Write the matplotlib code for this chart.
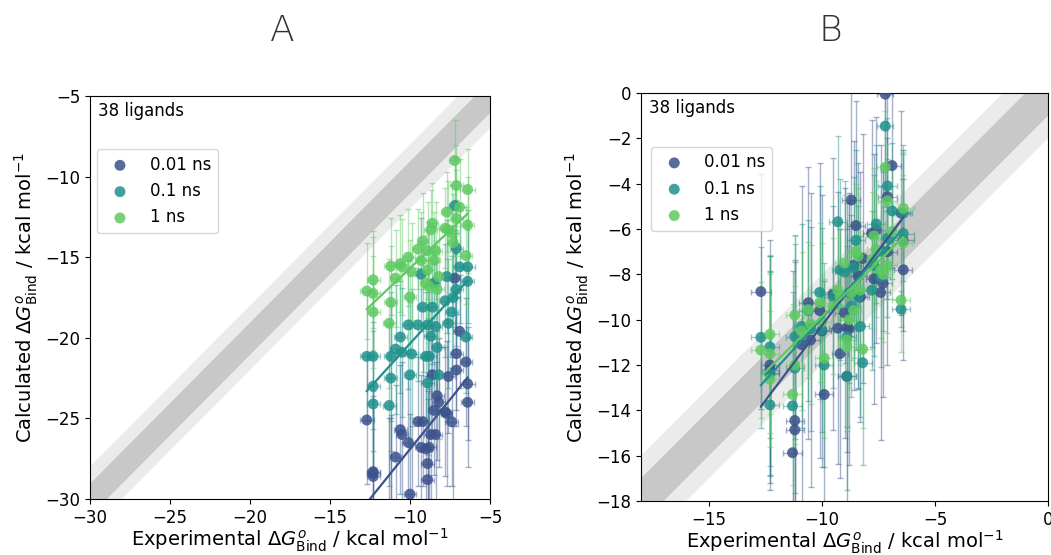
import numpy as np
import matplotlib
matplotlib.use('Agg')
import matplotlib.pyplot as plt

# experimental binding free energies (kcal/mol), shared by both panels
exp_dg = [-12.7, -12.3, -12.3, -12.3, -11.3, -11.2, -11.2, -10.9, -10.6, -10.5,
          -10.1, -10.0, -9.9, -9.5, -9.3, -9.2, -9.0, -8.9, -8.9, -8.8,
          -8.7, -8.6, -8.5, -8.4, -8.3, -8.2, -7.8, -7.7, -7.6, -7.4,
          -7.3, -7.2, -7.1, -7.1, -6.9, -6.5, -6.4, -6.4]
exp_err = [0.45, 0.4, 0.4, 0.4, 0.4, 0.4, 0.4, 0.35, 0.4, 0.4,
           0.4, 0.4, 0.4, 0.4, 0.4, 0.35, 0.4, 0.4, 0.4, 0.4,
           0.4, 0.35, 0.4, 0.4, 0.4, 0.4, 0.4, 0.35, 0.4, 0.4,
           0.4, 0.35, 0.4, 0.4, 0.4, 0.4, 0.45, 0.4]

# panel A - calculated values
a_001 = [-25.1, -28.3, -28.6, -28.4, -31.5, -32.0, -30.8, -27.4, -25.7, -26.0,
         -26.5, -29.7, -31.0, -25.2, -26.8, -25.2, -26.9, -28.8, -27.8, -26.8,
         -26.0, -22.3, -24.5, -26.0, -23.6, -24.0, -24.6, -24.7, -22.4, -25.2,
         -30.5, -16.3, -20.98, -22.0, -19.6, -21.5, -22.85, -24.0]
a_001_err = [4.0, 5.0, 5.0, 4.5, 6.5, 7.0, 6.0, 4.5, 4.0, 4.5,
             4.0, 5.0, 5.5, 4.0, 4.5, 4.0, 4.5, 5.0, 4.5, 4.0,
             4.0, 3.5, 4.0, 4.5, 4.0, 4.0, 4.0, 4.5, 3.5, 4.0,
             5.0, 3.0, 3.5, 3.5, 3.5, 4.0, 3.5, 4.0]
a_01 = [-21.15, -21.15, -23.0, -24.1, -24.2, -22.5, -21.15, -20.7, -19.95, -20.9,
        -19.2, -22.3, -21.0, -19.2, -16.06, -18.1, -21.15, -22.8, -19.2, -21.15,
        -19.9, -18.1, -16.6, -19.3, -20.6, -22.3, -17.7, -16.2, -19.1, -18.4,
        -17.5, -11.8, -14.46, -17.0, -15.6, -19.95, -15.6, -16.5]
a_01_err = [4.0, 4.5, 4.0, 4.5, 5.0, 4.5, 4.0, 4.0, 3.5, 4.0,
            4.0, 4.5, 4.0, 3.5, 3.5, 4.0, 4.0, 4.5, 4.0, 4.0,
            3.5, 3.5, 3.5, 4.0, 4.0, 4.0, 3.5, 3.5, 4.0, 3.5,
            3.5, 3.0, 3.0, 3.5, 3.5, 3.5, 3.5, 3.5]
a_1 = [-17.1, -16.4, -17.25, -18.4, -19.1, -17.8, -15.56, -16.3, -15.4, -15.6,
       -15.0, -17.46, -15.9, -14.5, -15.2, -14.0, -16.6, -14.6, -15.8, -16.8,
       -13.3, -12.9, -15.2, -14.6, -17.0, -16.2, -13.2, -12.2, -13.3, -13.5,
       -14.1, -9.0, -10.55, -12.6, -11.9, -14.9, -10.8, -13.0]
a_1_err = [3.0, 3.0, 3.5, 3.5, 4.0, 3.5, 3.0, 3.0, 3.0, 3.0,
           3.0, 3.5, 3.0, 2.5, 3.0, 3.0, 3.0, 3.0, 3.0, 3.5,
           2.5, 2.5, 3.0, 3.0, 3.0, 3.0, 2.5, 2.5, 3.0, 3.0,
           3.0, 2.5, 2.5, 3.0, 3.0, 3.0, 2.5, 3.0]

# panel B - calculated values
b_001 = [-8.76, -12.0, -12.2, -12.35, -15.87, -14.86, -14.45, -11.1, -9.25, -10.9,
         -9.6, -10.5, -13.3, -8.88, -10.38, -11.5, -9.7, -12.5, -10.35, -10.4,
         -4.72, -7.6, -5.85, -8.07, -9.0, -7.3, -6.19, -8.2, -6.05, -8.8,
         -8.4, -0.05, -4.57, -7.0, -3.2, -5.3, -6.5, -7.8]
b_001_err = [5.2, 5.5, 5.0, 4.5, 8.0, 7.5, 7.0, 7.0, 6.0, 6.5,
             6.5, 6.0, 5.0, 6.0, 6.0, 5.5, 5.5, 6.5, 5.5, 6.0,
             6.0, 5.5, 5.5, 5.0, 5.5, 5.5, 5.0, 5.5, 5.0, 6.5,
             5.0, 5.0, 4.5, 5.0, 4.5, 4.5, 4.0, 4.0]
b_01 = [-10.78, -13.76, -12.4, -11.2, -13.8, -12.14, -10.75, -10.3, -9.6, -10.4,
        -8.8, -10.45, -12.0, -9.0, -5.68, -7.8, -7.9, -12.5, -10.75, -8.8,
        -9.4, -7.7, -6.5, -9.0, -10.3, -11.9, -8.7, -7.6, -5.78, -8.1,
        -7.0, -1.46, -4.1, -6.4, -5.2, -9.54, -6.2, -5.3]
b_01_err = [4.0, 2.7, 4.5, 4.0, 5.0, 5.5, 4.5, 4.5, 4.0, 4.5,
            4.7, 4.5, 4.5, 4.0, 3.8, 4.0, 4.0, 5.0, 4.0, 4.0,
            4.0, 4.0, 4.0, 4.0, 4.0, 4.5, 3.5, 4.0, 3.5, 4.0,
            3.5, 3.0, 3.0, 3.5, 3.0, 0.8, 3.5, 3.0]
b_1 = [-11.34, -10.65, -11.5, -12.63, -13.3, -12.0, -9.8, -10.5, -9.56, -10.2,
       -9.25, -10.1, -11.7, -9.4, -8.7, -9.0, -7.5, -10.9, -11.2, -10.0,
       -8.8, -9.6, -7.0, -7.2, -8.7, -11.3, -7.35, -6.3, -6.9, -7.8,
       -8.0, -3.28, -4.76, -7.6, -6.1, -9.14, -5.09, -6.6]
b_1_err = [3.0, 3.5, 3.5, 3.0, 4.0, 3.5, 3.5, 3.5, 3.0, 3.5,
           3.5, 3.5, 3.5, 3.0, 3.0, 3.0, 3.0, 4.0, 3.5, 3.0,
           3.0, 3.0, 3.0, 3.0, 3.0, 3.5, 3.0, 3.0, 3.0, 3.0,
           3.0, 2.5, 2.5, 3.0, 3.0, 2.3, 2.5, 3.0]

labels = ['0.01 ns', '0.1 ns', '1 ns']
colors = ['#3b528b', '#21918c', '#5ec962']

panels = [
    ('A', [a_001, a_01, a_1], [a_001_err, a_01_err, a_1_err], (-30, -5)),
    ('B', [b_001, b_01, b_1], [b_001_err, b_01_err, b_1_err], (-18, 0)),
]
axes_pos = [[0.0856, 0.1009, 0.3806, 0.7261], [0.6099, 0.0973, 0.3873, 0.7351]]
leg_anchor = [(0.0, 0.885), (0.008, 0.885)]

fig = plt.figure(figsize=(10.51, 5.55), dpi=100)

x = np.array(exp_dg)
for i, (name, calcs, errs, lim) in enumerate(panels):
    ax = fig.add_axes(axes_pos[i])
    # agreement bands (+-2 and +-1 kcal/mol)
    line = np.linspace(lim[0] - 3, lim[1] + 3, 10)
    ax.fill_between(line, line - 2, line + 2, color='#ebebeb', lw=0, zorder=0)
    ax.fill_between(line, line - 1, line + 1, color='#c8c8c8', lw=0, zorder=0)

    for calc, err, lab, col in zip(calcs, errs, labels, colors):
        y = np.array(calc)
        ax.errorbar(x, y, xerr=exp_err, yerr=err, fmt='none', ecolor=col,
                    elinewidth=1, capsize=2, alpha=0.45, zorder=2)
        ax.scatter(x, y, s=62, color=col, alpha=0.85, edgecolors='none',
                   label=lab, zorder=3)
        # linear fit
        m, c = np.polyfit(x, y, 1)
        xf = np.array([x.min(), x.max()])
        ax.plot(xf, m * xf + c, color=col, lw=1.6, zorder=4)

    ax.set_xlim(lim)
    ax.set_ylim(lim)
    if name == 'A':
        ax.set_yticks(np.arange(-30, -4, 5))
    else:
        ax.set_xticks([-15, -10, -5, 0])
        ax.set_yticks(np.arange(-18, 1, 2))
    ax.tick_params(labelsize=12)
    ax.set_xlabel(r'Experimental $\Delta G^{o}_{\mathrm{Bind}}$ / kcal mol$^{-1}$',
                  fontsize=14, labelpad=0)
    ax.set_ylabel(r'Calculated $\Delta G^{o}_{\mathrm{Bind}}$ / kcal mol$^{-1}$',
                  fontsize=14, labelpad=4)
    ax.text(0.02, 0.985, '38 ligands', transform=ax.transAxes, fontsize=12,
            va='top', ha='left')
    ax.legend(loc='upper left', bbox_to_anchor=leg_anchor[i], fontsize=12,
              borderaxespad=0.4)

title_font = ['DejaVu Sans Condensed', 'Liberation Sans Narrow', 'DejaVu Sans']
fig.text(0.269, 0.945, 'A', fontsize=26, color='#333333', ha='center', va='center',
         family=title_font, fontweight='light')
fig.text(0.790, 0.945, 'B', fontsize=26, color='#333333', ha='center', va='center',
         family=title_font, fontweight='light')

fig.savefig('out.png', dpi=100)
